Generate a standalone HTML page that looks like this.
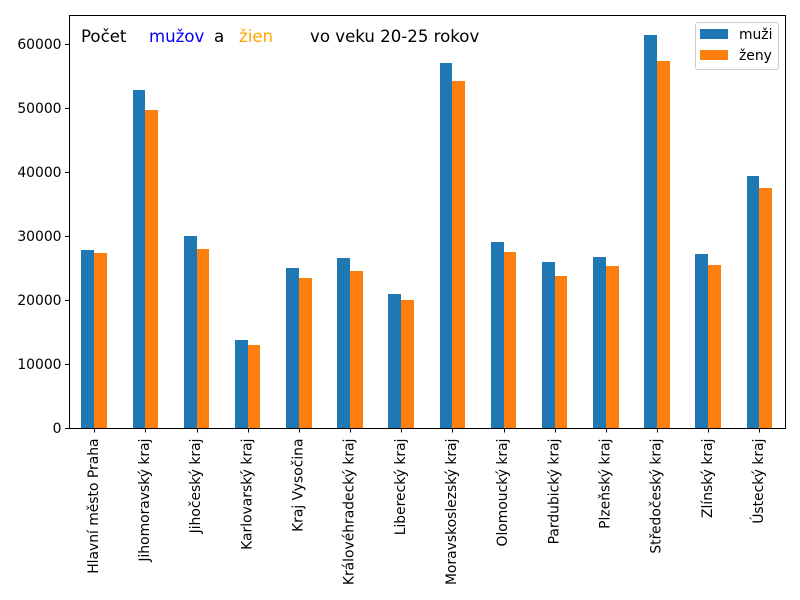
<!DOCTYPE html>
<html lang="sk">
<head>
<meta charset="utf-8">
<title>Počet mužov a žien vo veku 20-25 rokov</title>
<style>
html,body{margin:0;padding:0;background:#fff}
svg{display:block}
text{font-family:"DejaVu Sans",sans-serif;fill:#000}
.tick{font-size:13.89px}
.note{font-size:16.6px}
</style>
</head>
<body>
<svg id="chart" xmlns="http://www.w3.org/2000/svg" width="800" height="600" viewBox="0 0 800 600">
  <rect x="0" y="0" width="800" height="600" fill="#fff"/>
  <g id="bars"></g>
  <g id="x-axis"></g>
  <g id="y-axis"></g>
  <rect x="69.5" y="15.5" width="716" height="413" fill="none" stroke="#000" stroke-width="1"/>
  <text class="note" x="81" y="42">Počet</text>
  <text class="note" x="149" y="42" style="fill:#0000ff">mužov</text>
  <text class="note" x="214" y="42">a</text>
  <text class="note" x="239" y="42" style="fill:#ffa500">žien</text>
  <text class="note" x="310" y="42">vo veku 20-25 rokov</text>
  <g>
    <rect x="695.5" y="22.5" width="83" height="47" rx="2.5" fill="#fff" fill-opacity="0.8" stroke="#ccc" stroke-width="1"/>
    <rect x="700" y="29" width="28" height="10" fill="#1f77b4"/>
    <text class="tick" x="739" y="39">muži</text>
    <rect x="700" y="50" width="28" height="10" fill="#ff7f0e"/>
    <text class="tick" x="739" y="60">ženy</text>
  </g>
</svg>
<script>
const categories = ["Hlavní město Praha","Jihomoravský kraj","Jihočeský kraj","Karlovarský kraj","Kraj Vysočina","Královéhradecký kraj","Liberecký kraj","Moravskoslezský kraj","Olomoucký kraj","Pardubický kraj","Plzeňský kraj","Středočeský kraj","Zlínský kraj","Ústecký kraj"];
const muzi = [27800,52800,30000,13800,25000,26500,21000,57000,29000,25900,26700,61400,27200,39300];
const zeny = [27300,49700,28000,13000,23400,24500,20000,54200,27500,23700,25300,57300,25500,37500];
const yTicks = [0,10000,20000,30000,40000,50000,60000];

const NS = "http://www.w3.org/2000/svg";
const plot = {left:68.62, right:784.9, bottom:428};
const yScale = 384 / 60000;
function xAxis(i){ return plot.left + (i + 0.5) * (plot.right - plot.left) / categories.length; }
function yAxis(v){ return plot.bottom - v * yScale; }
const step = (plot.right - plot.left) / categories.length;
const barWidth = step * 0.25;

function make(tag, attrs, parent){
  const el = document.createElementNS(NS, tag);
  for (const k in attrs) el.setAttribute(k, attrs[k]);
  parent.appendChild(el);
  return el;
}

const barsG = document.getElementById("bars");
const xG = document.getElementById("x-axis");
const yG = document.getElementById("y-axis");

categories.forEach(function(name, i){
  const cx = xAxis(i);
  const xa = Math.round(cx - barWidth);
  const xb = Math.round(cx);
  const xc = Math.round(cx + barWidth);
  const ya = Math.round(yAxis(muzi[i]));
  const yb = Math.round(yAxis(zeny[i]));
  const b1 = make("rect", {x:xa, y:ya, width:xb - xa, height:plot.bottom - ya, fill:"#1f77b4"}, barsG);
  
  
  const b2 = make("rect", {x:xb, y:yb, width:xc - xb, height:plot.bottom - yb, fill:"#ff7f0e"}, barsG);
  
  
  const px = Math.round(cx) + 0.5;
  const t = make("line", {x1:px, x2:px, y1:428.5, y2:432.5, stroke:"#000", "stroke-width":1}, xG);
  
  
  const lx = cx + 3.6;
  const l = make("text", {class:"tick", x:lx, y:438.5, "text-anchor":"end", transform:"rotate(-90 " + lx + " 438.5)"}, xG);
  l.textContent = name;
  
  
});

yTicks.forEach(function(v){
  const py = Math.round(yAxis(v)) + 0.5;
  const t = make("line", {x1:65, x2:69.5, y1:py, y2:py, stroke:"#000", "stroke-width":1}, yG);
  
  
  const l = make("text", {class:"tick", x:61.5, y:py + 4.7, "text-anchor":"end"}, yG);
  l.textContent = String(v);
  
  
});
</script>
</body>
</html>
